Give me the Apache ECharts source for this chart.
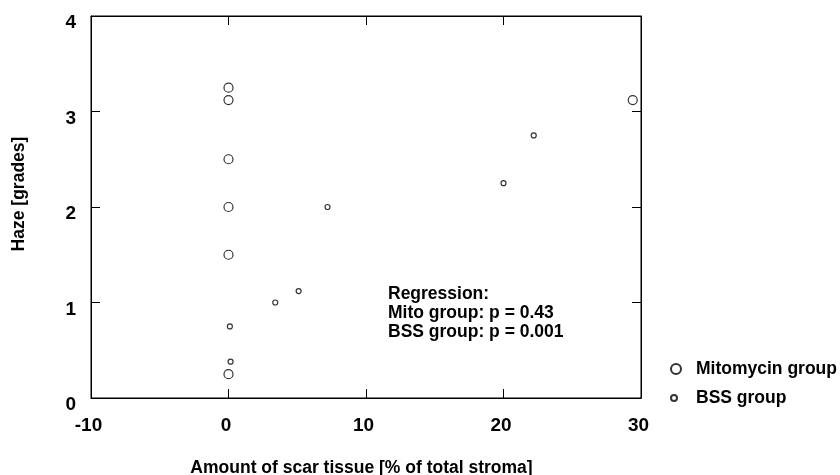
<!DOCTYPE html>
<html>
<head>
<meta charset="utf-8">
<script src="https://cdn.jsdelivr.net/npm/echarts@6/dist/echarts.min.js"></script>
<style>html,body{margin:0;padding:0;background:#fff;}#c{width:840px;height:475px;}</style>
</head>
<body>
<div id="c"></div>
<script>
const mitoData = [[0, 3.25], [0, 3.12], [0, 2.5], [0, 2.0], [0, 1.5], [0, 0.25], [29.4, 3.12]];
const bssData = [[0.1, 0.75], [0.15, 0.38], [3.4, 1.0], [5.1, 1.12], [7.2, 2.0], [20.0, 2.25], [22.2, 2.75]];
const xTicks = [-10, 0, 10, 20, 30];
const yTicks = [0, 1, 2, 3, 4];
const noteLines = ['Regression:', 'Mito group: p = 0.43', 'BSS group: p = 0.001'];

const FONT = 'Liberation Sans, Arial, sans-serif';
const chart = echarts.init(document.getElementById('c'));
const tickInside = {show: true, inside: true, length: 9, lineStyle: {color: '#000', width: 1}};
const line = {show: true, onZero: false, lineStyle: {color: '#000', width: 1}};
const lbl = {color: '#000', fontFamily: FONT, fontWeight: 'bold', fontSize: 19};
const nameStyle = {color: '#000', fontFamily: FONT, fontWeight: 'bold', fontSize: 17.5};
chart.setOption({
  animation: false,
  backgroundColor: '#fff',
  grid: {left: 91, top: 16, right: 199, bottom: 77, show: true, borderColor: '#000', borderWidth: 1,
         containLabel: false, outerBoundsMode: 'none'},
  xAxis: [{
    type: 'value', min: xTicks[0], max: xTicks[xTicks.length - 1], interval: 10,
    axisLine: line, axisTick: tickInside, splitLine: {show: false},
    axisLabel: Object.assign({margin: 18, padding: [0, 5, 0, 0]}, lbl),
    name: 'Amount of scar tissue [% of total stroma]', nameLocation: 'middle', nameGap: 61,
    nameTextStyle: Object.assign({padding: [0, 9, 0, 0]}, nameStyle)
  }, {
    type: 'value', position: 'top', min: xTicks[0], max: xTicks[xTicks.length - 1], interval: 10,
    axisLine: line, axisTick: tickInside,
    axisLabel: {show: false}, splitLine: {show: false}
  }],
  yAxis: [{
    type: 'value', min: yTicks[0], max: yTicks[yTicks.length - 1], interval: 1,
    axisLine: line, axisTick: tickInside, splitLine: {show: false},
    axisLabel: Object.assign({margin: 15, verticalAlign: 'top', lineHeight: 14}, lbl),
    name: 'Haze [grades]', nameLocation: 'middle', nameGap: 63,
    nameTextStyle: Object.assign({padding: [0, 0, 0, 26]}, nameStyle)
  }, {
    type: 'value', position: 'right', min: yTicks[0], max: yTicks[yTicks.length - 1], interval: 1,
    axisLine: line, axisTick: tickInside,
    axisLabel: {show: false}, splitLine: {show: false}
  }],
  legend: [{
    data: [{name: 'Mitomycin group', icon: 'circle'}],
    left: 665, top: 355, itemWidth: 10, itemHeight: 10,
    textStyle: Object.assign({padding: [0, 0, 0, 10]}, nameStyle)
  }, {
    data: [{name: 'BSS group', icon: 'circle'}],
    left: 665, top: 384, itemWidth: 6, itemHeight: 6,
    textStyle: Object.assign({padding: [0, 0, 0, 14]}, nameStyle)
  }],
  graphic: [{
    type: 'text', left: 388, top: 285,
    style: {text: noteLines.join('\n'), fill: '#000', font: 'bold 17.5px ' + FONT, lineHeight: 19}
  }],
  series: [{
    name: 'Mitomycin group', type: 'scatter', data: mitoData, symbol: 'circle', symbolSize: 9,
    itemStyle: {color: '#fff', borderColor: '#000', borderWidth: 1.2}
  }, {
    name: 'BSS group', type: 'scatter', data: bssData, symbol: 'circle', symbolSize: 5,
    itemStyle: {color: '#fff', borderColor: '#000', borderWidth: 1.2}
  }]
});
</script>
</body>
</html>
